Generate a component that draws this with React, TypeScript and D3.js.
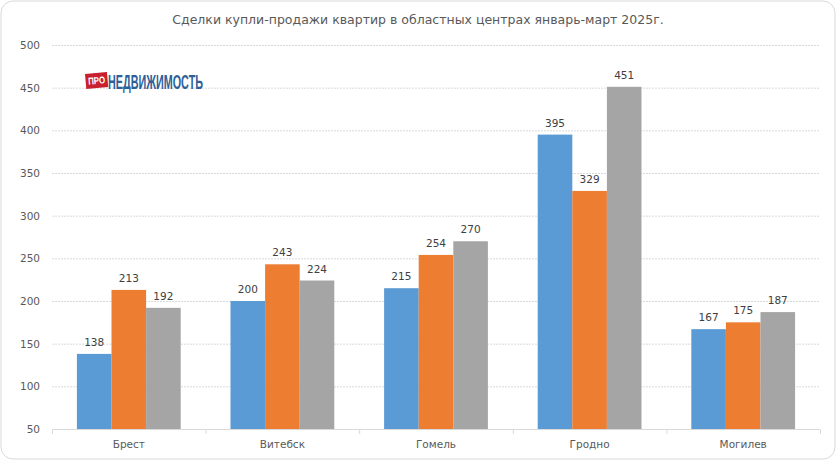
import * as d3 from "d3";
import { useEffect } from "react";

const cities = ["Брест", "Витебск", "Гомель", "Гродно", "Могилев"];
const seriesA = [138, 200, 215, 395, 167];
const seriesB = [213, 243, 254, 329, 175];
const seriesC = [192, 224, 270, 451, 187];
const yTicks = [50, 100, 150, 200, 250, 300, 350, 400, 450, 500];
const title = "Сделки купли-продажи квартир в областных центрах январь-март 2025г.";

const W = 837;
const H = 461;
const colors = ["#5b9bd5", "#ed7d31", "#a5a5a5"];
const font = "'DejaVu Sans', sans-serif";

export default function App() {
  useEffect(() => {
    document.body.style.margin = "0";
  }, []);

  const x = d3.scaleBand().domain(cities).range([52, 820]).paddingInner(0).paddingOuter(0);
  const inner = d3.scaleBand().domain(["a", "b", "c"]).range([0, x.bandwidth()]).paddingOuter(0.72).paddingInner(0);
  const y = d3.scaleLinear().domain([50, 500]).range([429, 45]);

  const series = [seriesA, seriesB, seriesC];
  const keys = ["a", "b", "c"];
  const ticksX = [...cities.map((c) => x(c)!), 820];

  return (
    <svg width={W} height={H} style={{ display: "block" }}>
      <rect x={1} y={1} width={W - 3} height={H - 3} rx={12} fill="#fff" stroke="#d9d9d9" strokeWidth={1} />
      <text x={418} y={24} textAnchor="middle" fontFamily={font} fontSize={12.5} fill="#595959">
        {title}
      </text>

      {yTicks.map((t) => (
        <g key={t}>
          {t !== 50 && (
            <line x1={52} x2={820} y1={y(t) + 0.5} y2={y(t) + 0.5} stroke="#d9d9d9" strokeDasharray="2,1" />
          )}
          <text x={40} y={y(t) + 4} textAnchor="end" fontFamily={font} fontSize={10.5} fill="#595959">
            {t}
          </text>
        </g>
      ))}

      {/* logo */}
      <g transform="translate(85,74) rotate(-5)">
        <rect x={0} y={0} width={22} height={15} fill="#c8202f" />
        <text x={11} y={11} textAnchor="middle" fontFamily="'Liberation Sans', sans-serif" fontWeight="bold" fontSize={10} fill="#fff" textLength={17} lengthAdjust="spacingAndGlyphs">
          ПРО
        </text>
      </g>
      <text x={108} y={89} fontFamily="'Liberation Sans Narrow', 'Liberation Sans', sans-serif" fontWeight="bold" fontSize={20} fill="#2e5f98" textLength={95} lengthAdjust="spacingAndGlyphs">
        НЕДВИЖИМОСТЬ
      </text>

      {cities.map((c, i) => (
        <g key={c} transform={`translate(${x(c)},0)`}>
          {series.map((s, j) => (
            <g key={j}>
              <rect x={inner(keys[j])} y={y(s[i])} width={inner.bandwidth()} height={y(50) - y(s[i])} fill={colors[j]} />
              <text x={inner(keys[j])! + inner.bandwidth() / 2} y={y(s[i]) - 8} textAnchor="middle" fontFamily={font} fontSize={10.5} fill="#404040">
                {s[i]}
              </text>
            </g>
          ))}
          <text x={x.bandwidth() / 2} y={448} textAnchor="middle" fontFamily={font} fontSize={10.5} fill="#595959">
            {c}
          </text>
        </g>
      ))}

      <line x1={52} x2={820} y1={429.5} y2={429.5} stroke="#d9d9d9" />
      {ticksX.map((t, i) => (
        <line key={i} x1={t + 0.5} x2={t + 0.5} y1={429.5} y2={434} stroke="#d9d9d9" />
      ))}
    </svg>
  );
}
